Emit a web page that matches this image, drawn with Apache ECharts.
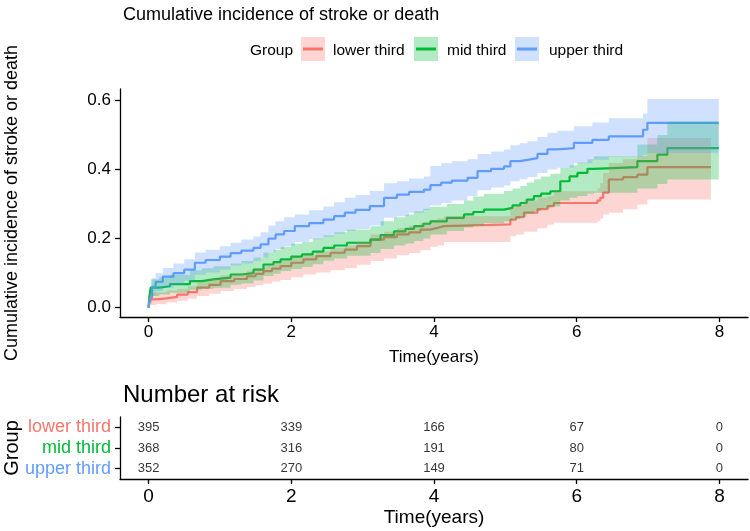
<!DOCTYPE html>
<html><head><meta charset="utf-8">
<script src="https://cdn.jsdelivr.net/npm/echarts@6/dist/echarts.min.js"></script>
<style>html,body{margin:0;padding:0;background:#fff}#c{width:750px;height:531px}</style>
</head><body><div id="c"></div>
<script>
const groups = ['lower third','mid third','upper third'];
const colors = ['#F8766D','#00BA38','#619CFF'];
const bandColors = ['rgba(248,118,109,0.3)','rgba(0,186,56,0.3)','rgba(97,156,255,0.3)'];
const xTicks = [0,2,4,6,8];
const yTicks = [0,0.2,0.4,0.6];

// lower third
const lowerT = [0,0.01,0.03,0.1,0.25,0.4,0.55,0.68,0.85,1.01,1.2,1.38,1.5,1.61,1.73,1.85,2.0,2.17,2.35,2.55,2.75,2.92,3.11,3.3,3.48,3.65,3.81,3.95,4.05,4.14,5.07,5.15,5.26,5.45,5.59,5.68,6.29,6.33,6.37,6.45,6.65,6.85,6.99,7.88];
const lowerEst = [0,0.015,0.024,0.027,0.031,0.038,0.045,0.058,0.066,0.077,0.083,0.091,0.098,0.106,0.113,0.12,0.13,0.14,0.149,0.159,0.168,0.178,0.197,0.204,0.212,0.218,0.226,0.231,0.236,0.241,0.255,0.262,0.275,0.285,0.294,0.303,0.31,0.318,0.333,0.371,0.378,0.385,0.407,0.407];
const lowerLo = [0,0.004,0.008,0.01,0.015,0.02,0.026,0.034,0.04,0.048,0.054,0.06,0.065,0.07,0.076,0.08,0.088,0.096,0.102,0.108,0.115,0.124,0.135,0.142,0.152,0.158,0.166,0.176,0.18,0.19,0.207,0.212,0.22,0.23,0.24,0.246,0.25,0.258,0.27,0.275,0.285,0.299,0.313,0.313];
const lowerHi = [0,0.03,0.042,0.045,0.05,0.053,0.062,0.076,0.084,0.094,0.1,0.107,0.115,0.123,0.13,0.136,0.146,0.153,0.162,0.172,0.18,0.19,0.212,0.22,0.23,0.238,0.246,0.252,0.258,0.265,0.29,0.298,0.31,0.318,0.323,0.337,0.345,0.36,0.39,0.419,0.43,0.438,0.491,0.491];

// mid third
const midT = [0,0.01,0.03,0.15,0.3,0.58,0.75,0.91,1.15,1.3,1.47,1.61,1.75,1.85,2.0,2.15,2.3,2.45,2.6,2.78,3.11,3.25,3.44,3.6,3.72,3.85,3.95,4.18,4.42,4.55,4.7,4.98,5.1,5.21,5.3,5.4,5.5,5.63,5.77,5.9,6.01,6.15,6.24,6.85,7.13,7.27,7.99];
const midEst = [0,0.03,0.058,0.062,0.068,0.077,0.082,0.087,0.096,0.1,0.11,0.125,0.132,0.14,0.148,0.154,0.162,0.173,0.18,0.188,0.197,0.21,0.221,0.228,0.236,0.243,0.25,0.26,0.27,0.277,0.284,0.289,0.296,0.303,0.313,0.323,0.33,0.337,0.366,0.38,0.39,0.402,0.407,0.424,0.443,0.462,0.462];
const midLo = [0,0.012,0.034,0.038,0.043,0.052,0.055,0.058,0.066,0.07,0.079,0.092,0.098,0.106,0.112,0.118,0.126,0.136,0.142,0.15,0.158,0.17,0.18,0.186,0.193,0.2,0.212,0.222,0.232,0.238,0.245,0.25,0.256,0.263,0.272,0.28,0.287,0.293,0.31,0.318,0.323,0.33,0.333,0.345,0.358,0.371,0.371];
const midHi = [0,0.05,0.082,0.088,0.095,0.108,0.114,0.12,0.128,0.135,0.145,0.16,0.168,0.176,0.185,0.19,0.2,0.21,0.218,0.226,0.236,0.25,0.262,0.27,0.279,0.286,0.292,0.3,0.31,0.322,0.33,0.338,0.345,0.352,0.362,0.372,0.38,0.388,0.405,0.412,0.42,0.43,0.438,0.472,0.5,0.539,0.539];

// upper third
const upperT = [0,0.02,0.05,0.1,0.2,0.35,0.5,0.65,0.8,1.0,1.15,1.3,1.47,1.57,1.68,1.78,1.9,2.05,2.25,2.45,2.6,2.75,2.9,3.1,3.3,3.48,3.65,3.86,3.95,4.1,4.25,4.47,4.61,4.8,4.98,5.07,5.2,5.31,5.45,5.59,5.73,5.96,6.22,6.45,6.93,6.99,7.99];
const upperEst = [0,0.03,0.06,0.075,0.09,0.1,0.11,0.13,0.138,0.148,0.158,0.165,0.173,0.183,0.2,0.212,0.222,0.236,0.245,0.255,0.265,0.275,0.283,0.294,0.318,0.327,0.335,0.342,0.355,0.362,0.368,0.376,0.395,0.402,0.409,0.424,0.428,0.433,0.445,0.458,0.462,0.477,0.486,0.496,0.515,0.535,0.535];
const upperLo = [0,0.012,0.035,0.048,0.058,0.067,0.078,0.095,0.102,0.11,0.122,0.128,0.135,0.145,0.16,0.17,0.178,0.19,0.198,0.205,0.214,0.222,0.228,0.238,0.26,0.265,0.275,0.283,0.296,0.303,0.31,0.323,0.34,0.348,0.354,0.366,0.372,0.378,0.39,0.4,0.405,0.418,0.428,0.437,0.443,0.448,0.448];
const upperHi = [0,0.05,0.085,0.1,0.115,0.128,0.14,0.16,0.168,0.178,0.188,0.197,0.206,0.218,0.238,0.25,0.262,0.27,0.282,0.293,0.305,0.318,0.326,0.338,0.36,0.366,0.374,0.38,0.41,0.418,0.424,0.43,0.445,0.452,0.458,0.47,0.476,0.482,0.494,0.506,0.512,0.525,0.536,0.548,0.562,0.604,0.604];

// number at risk
const riskTimes = [0,2,4,6,8];
const riskLower = [395,339,166,67,0];
const riskMid = [368,316,191,80,0];
const riskUpper = [352,270,149,71,0];

const curves = [
  {t: lowerT, est: lowerEst, lo: lowerLo, hi: lowerHi},
  {t: midT, est: midEst, lo: midLo, hi: midHi},
  {t: upperT, est: upperEst, lo: upperLo, hi: upperHi}
];
const risks = [riskLower, riskMid, riskUpper];

const FONT = "'Liberation Sans', Arial, sans-serif";
const series = [];
curves.forEach((c, i) => {
  series.push({
    type: 'line', name: groups[i], step: 'end', xAxisIndex: 0, yAxisIndex: 0,
    data: c.t.map((t, k) => [t, c.est[k]]),
    showSymbol: false, symbol: 'none', silent: true, z: 2,
    lineStyle: {color: colors[i], width: 2.2}
  });
});
// confidence bands: one step-shaped polygon per group, through the axes' scales
function bandRenderer(fill) {
  return function (params, api) {
    if (params.dataIndexInside !== 0) return null;
    const n = params.dataInsideLength;
    const top = [], bot = [];
    for (let k = 0; k < n; k++) {
      const t0 = api.value(0, k);
      const t1 = k + 1 < n ? api.value(0, k + 1) : t0;
      const lo = api.value(1, k), hi = api.value(2, k);
      top.push(api.coord([t0, hi]), api.coord([t1, hi]));
      bot.push(api.coord([t0, lo]), api.coord([t1, lo]));
    }
    const pts = top.concat(bot.reverse());
    return {type: 'polygon', shape: {points: pts}, style: {fill: fill}, silent: true};
  };
}
curves.forEach((c, i) => {
  series.push({
    type: 'custom', xAxisIndex: 0, yAxisIndex: 0, z: 3, silent: true,
    renderItem: bandRenderer(bandColors[i]),
    encode: {x: 0, y: [1, 2]},
    data: c.t.map((t, k) => [t, c.lo[k], c.hi[k]])
  });
});
risks.forEach((r, i) => {
  series.push({
    type: 'scatter', xAxisIndex: 1, yAxisIndex: 1, silent: true,
    symbolSize: 1, itemStyle: {color: 'rgba(0,0,0,0)'},
    data: riskTimes.map((t, k) => [t, groups[i], r[k]]),
    label: {show: true, position: 'inside', formatter: p => String(p.value[2]),
            color: '#000', fontSize: 13, fontFamily: FONT}
  });
});

// legend drawn like ggplot keys
const legendKeyX = [301, 414, 515];
const legendTextX = [333, 447, 549];
const graphics = [{type: 'text', left: 250, top: 43, style: {text: 'Group', fontSize: 15.5, fill: '#000', fontFamily: FONT}}];
groups.forEach((g, i) => {
  graphics.push({type: 'rect', shape: {x: legendKeyX[i], y: 37, width: 24, height: 24}, style: {fill: bandColors[i]}});
  graphics.push({type: 'line', shape: {x1: legendKeyX[i] + 2, y1: 49, x2: legendKeyX[i] + 22, y2: 49}, style: {stroke: colors[i], lineWidth: 3}});
  graphics.push({type: 'text', left: legendTextX[i], top: 43, style: {text: g, fontSize: 15.5, fill: '#000', fontFamily: FONT}});
});

const axisLineStyle = {color: '#000', width: 1.3};
const option = {
  animation: false,
  textStyle: {fontFamily: FONT},
  title: [
    {text: 'Cumulative incidence of stroke or death', left: 118, top: 1,
     textStyle: {fontSize: 18, fontWeight: 'normal', color: '#000', fontFamily: FONT}},
    {text: 'Number at risk', left: 118, top: 378,
     textStyle: {fontSize: 24, fontWeight: 'normal', color: '#000', fontFamily: FONT}}
  ],
  graphic: graphics,
  grid: [
    {left: 120, top: 89, width: 628, height: 228, outerBoundsMode: 'none', containLabel: false},
    {left: 120, top: 417, width: 628, height: 62, outerBoundsMode: 'none', containLabel: false}
  ],
  xAxis: [
    {type: 'value', gridIndex: 0, min: -0.4, max: 8.4,
     axisLine: {onZero: false, lineStyle: axisLineStyle},
     axisTick: {show: true, customValues: xTicks, length: 5, lineStyle: axisLineStyle},
     axisLabel: {customValues: xTicks, fontSize: 17, color: '#000', margin: 7},
     splitLine: {show: false},
     name: 'Time(years)', nameLocation: 'middle', nameGap: 32,
     nameTextStyle: {fontSize: 17, color: '#000'}},
    {type: 'value', gridIndex: 1, min: -0.4, max: 8.4,
     axisLine: {show: true, onZero: false, lineStyle: axisLineStyle},
     axisTick: {show: true, customValues: xTicks, length: 5, lineStyle: axisLineStyle},
     axisLabel: {customValues: xTicks, fontSize: 19, color: '#000', margin: 8},
     splitLine: {show: false},
     name: 'Time(years)', nameLocation: 'middle', nameGap: 29,
     nameTextStyle: {fontSize: 19, color: '#000'}}
  ],
  yAxis: [
    {type: 'value', gridIndex: 0, min: -0.027, max: 0.633,
     axisLine: {show: true, onZero: false, lineStyle: axisLineStyle},
     axisTick: {show: true, customValues: yTicks, length: 5, lineStyle: axisLineStyle},
     axisLabel: {customValues: yTicks, formatter: v => Number(v).toFixed(1), fontSize: 17, color: '#000', margin: 9},
     splitLine: {show: false},
     name: 'Cumulative incidence of stroke or death', nameLocation: 'middle', nameRotate: 90, nameGap: 99,
     nameMoveOverlap: false,
     nameTextStyle: {fontSize: 18, color: '#000'}},
    {type: 'category', gridIndex: 1, data: groups.slice().reverse(),
     axisLine: {show: true, onZero: false, lineStyle: axisLineStyle},
     axisTick: {show: true, alignWithLabel: true, interval: 0, length: 5, lineStyle: axisLineStyle},
     axisLabel: {fontSize: 18, margin: 9, interval: 0, hideOverlap: false, color: v => colors[groups.indexOf(v)]},
     splitLine: {show: false},
     name: 'Group', nameLocation: 'middle', nameRotate: 90, nameGap: 98,
     nameMoveOverlap: false,
     nameTextStyle: {fontSize: 20, color: '#000'}}
  ],
  series: series
};
const chart = echarts.init(document.getElementById('c'), null, {renderer: 'canvas'});
chart.setOption(option);
</script></body></html>
